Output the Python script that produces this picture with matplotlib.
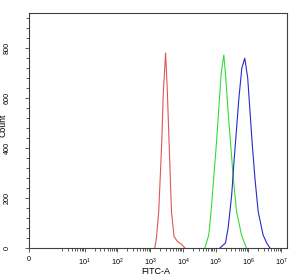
import matplotlib
matplotlib.use('Agg')
import matplotlib.pyplot as plt
import numpy as np

plt.rcParams['font.family'] = ['Liberation Sans', 'DejaVu Sans']
plt.rcParams['mathtext.fontset'] = 'custom'
plt.rcParams['mathtext.rm'] = 'Liberation Sans'
plt.rcParams['mathtext.it'] = 'Liberation Sans'

# histogram traces: position in decades (log10 of FITC-A) and count
red_dec = [3.14, 3.19, 3.26, 3.35, 3.40, 3.47, 3.52, 3.58, 3.65, 3.73, 3.84, 3.96, 4.06]
red_cnt = [0, 40, 145, 412, 620, 780, 640, 412, 145, 45, 25, 15, 0]

green_dec = [4.67, 4.79, 4.86, 4.94, 5.02, 5.09, 5.17, 5.25, 5.31, 5.38, 5.46, 5.54, 5.64, 5.79, 5.94]
green_cnt = [0, 52, 145, 279, 412, 546, 700, 772, 680, 546, 412, 279, 145, 52, 0]

blue_dec = [5.13, 5.30, 5.38, 5.49, 5.56, 5.64, 5.71, 5.80, 5.89, 5.98, 6.05, 6.12, 6.20, 6.30, 6.45, 6.56, 6.66]
blue_cnt = [0, 20, 79, 212, 345, 479, 599, 720, 759, 679, 545, 412, 279, 145, 52, 20, 0]

x_ticks = [0, 1e1, 1e2, 1e3, 1e4, 1e5, 1e6, 1e7]
x_labels = ['0', '$10^1$', '$10^2$', '$10^3$', '$10^4$', '$10^5$', '$10^6$', '$10^7$']
y_ticks = [0, 200, 400, 600, 800]

fig = plt.figure(figsize=(2.92, 2.75), dpi=100)
ax = fig.add_axes([29 / 292, 1 - 248 / 275, 258 / 292, 235 / 275])

ax.plot(10 ** np.array(red_dec), red_cnt, color='#e05555', lw=0.8)
ax.plot(10 ** np.array(green_dec), green_cnt, color='#33dd33', lw=0.8)
ax.plot(10 ** np.array(blue_dec), blue_cnt, color='#2a2ac8', lw=0.8)

ax.set_xscale('symlog', linthresh=1, linscale=0.633)
ax.set_xlim(0, 10 ** 7.18)
ax.set_ylim(0, 940)

ax.set_xticks(x_ticks)
ax.set_xticklabels(x_labels)
minor_x = [m * 10 ** k for k in range(0, 7) for m in range(2, 10)]
ax.set_xticks(minor_x, minor=True)
ax.set_yticks(y_ticks)
ax.set_yticks(np.arange(40, 940, 40), minor=True)
ax.set_yticklabels([str(v) for v in y_ticks], rotation=90, va='center')

for s in ax.spines.values():
    s.set_color('#404040')
    s.set_linewidth(0.8)

ax.tick_params(axis='both', which='major', length=3, width=0.6, color='#404040', labelsize=5.2)
ax.tick_params(axis='both', which='minor', length=2, width=0.6, color='#404040')
ax.tick_params(axis='x', which='major', pad=3)
ax.tick_params(axis='y', which='major', pad=10)

ax.set_xlabel('FITC-A', fontsize=6.5)
ax.set_ylabel('Count', fontsize=6.3)
ax.xaxis.set_label_coords(0.49, -0.081)
ax.yaxis.set_label_coords(-0.082, 0.52)

plt.savefig('out.png', dpi=100)
